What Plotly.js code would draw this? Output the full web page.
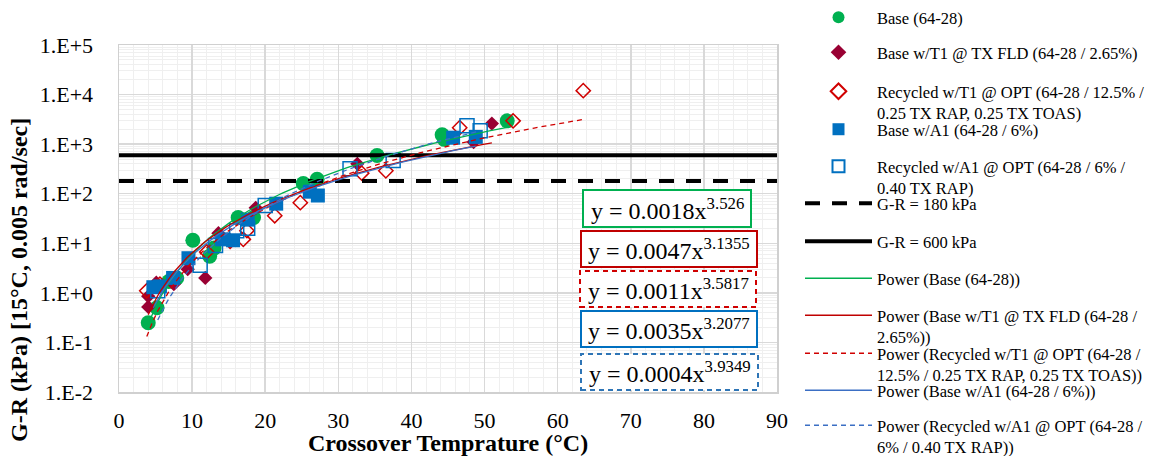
<!DOCTYPE html>
<html><head><meta charset="utf-8">
<script src="https://cdn.plot.ly/plotly-3.0.1.min.js"></script>
<style>html,body{margin:0;padding:0;background:#fff}#chart{width:1160px;height:456px}</style>
</head><body><div id="chart"></div>
<script>
// ---- data ----
const baseX = [4.0, 5.2, 6.8, 7.9, 10.1, 12.4, 13.0, 16.3, 18.4, 25.2, 27.1, 35.3, 44.2, 44.5, 53.1];
const baseY = [0.25, 0.5, 1.7, 2.0, 11.5, 5.5, 8.0, 33, 33, 160, 195, 590, 1550, 1250, 2950];

const t1X = [4.0, 4.0, 5.1, 7.5, 9.4, 11.8, 13.6, 18.7, 32.6, 48.5, 51.0];
const t1Y = [0.52, 0.85, 1.6, 1.5, 3.0, 2.0, 16, 52, 400, 1100, 2600];

const recT1X = [3.8, 5.6, 12.0, 15.2, 17.0, 17.5, 21.3, 24.8, 33.2, 36.5, 46.6, 53.9, 63.5];
const recT1Y = [1.1, 1.5, 6.7, 11, 12, 18, 36, 66, 260, 290, 2150, 2950, 12000];

const a1X = [4.7, 5.6, 7.4, 9.5, 14.1, 15.6, 17.6, 21.5, 26.1, 27.2, 45.7, 48.8];
const a1Y = [1.3, 1.35, 2.0, 5.0, 12, 11.5, 30, 63, 110, 92, 1350, 1400];

const recA1X = [5.3, 11.1, 13.2, 16.1, 17.6, 20.0, 31.6, 37.5, 47.6, 49.4];
const recA1Y = [1.1, 3.6, 9.0, 18, 20, 58, 320, 470, 2350, 1870];

const thresholdValues = [180, 600];
const thresholdX = [0, 90];

// power-law trendline coefficients as printed on the chart: y = a * x^b
const fitA = [0.0018, 0.0047, 0.0011, 0.0035, 0.0004];
const fitB = [3.526, 3.1355, 3.5817, 3.2077, 3.9349];

const yTickVals = [0.01, 0.1, 1, 10, 100, 1000, 10000, 100000];
const yTickText = ['1.E-2', '1.E-1', '1.E+0', '1.E+1', '1.E+2', '1.E+3', '1.E+4', '1.E+5'];

const seriesNames = [
  'Base (64-28)',
  'Base w/T1 @ TX FLD (64-28 / 2.65%)',
  'Recycled w/T1 @ OPT (64-28 / 12.5% /<br>0.25 TX RAP, 0.25 TX TOAS)',
  'Base w/A1 (64-28 / 6%)',
  'Recycled w/A1 @ OPT (64-28 / 6% /<br>0.40 TX RAP)'
];
const thresholdNames = ['G-R = 180 kPa', 'G-R = 600 kPa'];
const powerNames = [
  'Power (Base (64-28))',
  'Power (Base w/T1 @ TX FLD (64-28 /<br>2.65%))',
  'Power (Recycled w/T1 @ OPT (64-28 /<br>12.5% / 0.25 TX RAP, 0.25 TX TOAS))',
  'Power (Base w/A1 (64-28 / 6%))',
  'Power (Recycled w/A1 @ OPT (64-28 /<br>6% / 0.40 TX RAP))'
];

// ---- styling / layout ----
const FONT = 'Liberation Serif, Times New Roman, serif';
const PL = 119, PR = 777, PT = 45, PB = 392;
const W = 1160, H = 456;
const px2x = p => (p - PL) / (PR - PL);
const py2y = p => (PB - p) / (PB - PT);

const xs = [baseX, t1X, recT1X, a1X, recA1X];
const ys = [baseY, t1Y, recT1Y, a1Y, recA1Y];
const markerStyles = [
  {symbol: 'circle', size: 15, color: '#00B050'},
  {symbol: 'diamond', size: 11, color: '#990033'},
  {symbol: 'diamond-open', size: 11, color: '#D00000', line: {width: 1.5, color: '#D00000'}},
  {symbol: 'square', size: 14, color: '#0070C0'},
  {symbol: 'square-open', size: 14, color: '#0070C0', line: {width: 1.5, color: '#0070C0'}}
];
const trendStyles = [
  {color: '#00B050', width: 1.3, dash: 'solid'},
  {color: '#C00000', width: 1.3, dash: 'solid'},
  {color: '#D00000', width: 1.3, dash: '5px,4px'},
  {color: '#3B6FC4', width: 1.3, dash: 'solid'},
  {color: '#3B6FC4', width: 1.3, dash: '5px,4px'}
];
const thrStyles = [
  {color: '#000', width: 4, dash: '15px,12px'},
  {color: '#000', width: 4, dash: 'solid'}
];
// legend first-line centres (px) in the reference
const legendRows = [17, 53, 92, 130, 167, 204, 242, 279, 316, 354, 391, 426];

const traces = [];
let li = 0;
const legId = i => (i === 0 ? 'legend' : 'legend' + (i + 1));
for (let i = 0; i < 5; i++) {
  traces.push({type: 'scatter', mode: 'markers', x: xs[i], y: ys[i], name: seriesNames[i],
    marker: markerStyles[i], legend: legId(li++), cliponaxis: false});
}
for (let i = 0; i < 2; i++) {
  traces.push({type: 'scatter', mode: 'lines', x: thresholdX,
    y: thresholdX.map(() => thresholdValues[i]), name: thresholdNames[i],
    line: thrStyles[i], legend: legId(li++)});
}
for (let i = 0; i < 5; i++) {
  const xmin = Math.min(...xs[i]), xmax = Math.max(...xs[i]);
  const tx = [], ty = [];
  for (let k = 0; k <= 80; k++) {
    const x = xmin + (xmax - xmin) * k / 80;
    tx.push(x); ty.push(fitA[i] * Math.pow(x, fitB[i]));
  }
  traces.push({type: 'scatter', mode: 'lines', x: tx, y: ty, name: powerNames[i],
    line: trendStyles[i], legend: legId(li++), hoverinfo: 'skip'});
}

const layout = {
  width: W, height: H,
  margin: {l: PL, r: W - PR, t: PT, b: H - PB, autoexpand: false},
  paper_bgcolor: '#fff', plot_bgcolor: '#fff',
  font: {family: FONT, color: '#000', size: 17},
  showlegend: true,
  xaxis: {
    automargin: false,
    range: [0, 90], tick0: 0, dtick: 10, showgrid: true, gridcolor: '#D9D9D9', gridwidth: 1.5,
    minor: {dtick: 2, showgrid: true, gridcolor: '#EFEFEF', gridwidth: 1},
    showline: true, mirror: true, linecolor: '#D0D0D0', linewidth: 1.5,
    zeroline: false, ticks: '', ticklabelstandoff: 8,
    tickfont: {family: FONT, size: 22, color: '#000'},
    title: {text: '<b>Crossover Temprature (°C)</b>', font: {family: FONT, size: 24, color: '#000'}, standoff: 8}
  },
  yaxis: {
    automargin: false,
    type: 'log', range: [-2, 5], tickmode: 'array', tickvals: yTickVals, ticktext: yTickText,
    showgrid: true, gridcolor: '#D9D9D9', gridwidth: 1.5,
    minor: {dtick: 'D1', showgrid: true, gridcolor: '#EFEFEF', gridwidth: 1},
    showline: true, mirror: true, linecolor: '#D0D0D0', linewidth: 1.5,
    zeroline: false, ticks: '', ticklabelstandoff: 20,
    tickfont: {family: FONT, size: 22, color: '#000'}
  },
  annotations: [{
    xref: 'paper', yref: 'paper', x: px2x(19), y: py2y(280), xanchor: 'center', yanchor: 'middle',
    textangle: -90, showarrow: false, text: '<b>G-R (kPa) [15°C, 0.005 rad/sec]</b>',
    font: {family: FONT, size: 24, color: '#000'}
  }],
  shapes: []
};

for (let i = 0; i < 12; i++) {
  layout[legId(i)] = {
    xref: 'container', yref: 'container',
    x: 800 / W, y: 1 - (legendRows[i] - 18) / H, xanchor: 'left', yanchor: 'top',
    bgcolor: 'rgba(0,0,0,0)', borderwidth: 0, valign: 'top',
    itemsizing: i < 5 ? 'constant' : 'trace', itemwidth: 67,
    font: {family: FONT, size: 16.5, color: '#000'}, itemclick: false
  };
}

// equation boxes
const boxes = [
  [583, 751, 190, 227], [581, 757, 231, 267], [580, 756, 271, 307], [581, 757, 311, 347], [581, 758, 354, 390]
];
const boxColors = ['#00B050', '#C00000', '#D00000', '#0070C0', '#2E75B6'];
const boxDash = ['solid', 'solid', '5px,4px', 'solid', '5px,4px'];
for (let i = 0; i < 5; i++) {
  const b = boxes[i];
  layout.shapes.push({type: 'rect', xref: 'paper', yref: 'paper',
    x0: px2x(b[0]), x1: px2x(b[1]), y0: py2y(b[3]), y1: py2y(b[2]),
    fillcolor: '#fff', line: {color: boxColors[i], width: 2, dash: boxDash[i]}, layer: 'above'});
  layout.annotations.push({xref: 'paper', yref: 'paper', x: px2x((b[0] + b[1]) / 2), y: py2y((b[2] + b[3]) / 2),
    xanchor: 'center', yanchor: 'middle', showarrow: false,
    text: 'y = ' + fitA[i] + 'x<sup>' + fitB[i] + '</sup>',
    font: {family: FONT, size: 24, color: '#000'}});
}

Plotly.newPlot('chart', traces, layout, {staticPlot: true, displayModeBar: false});
</script></body></html>
